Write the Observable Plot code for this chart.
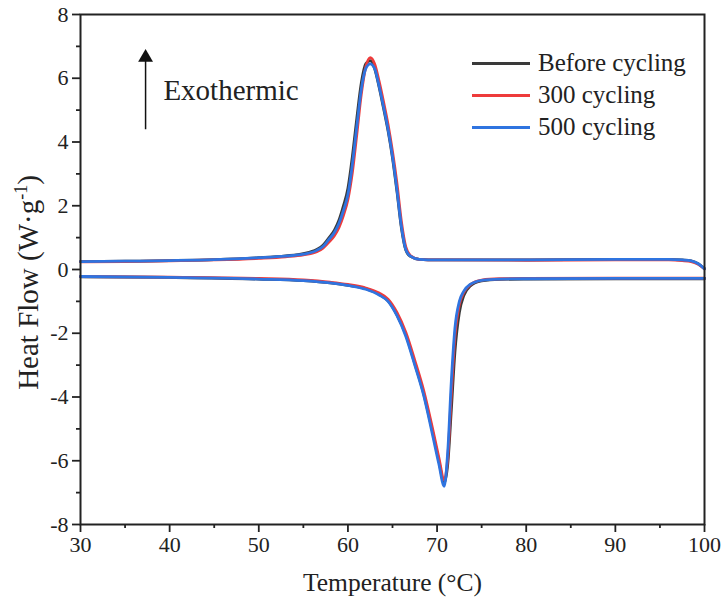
<!DOCTYPE html>
<html>
<head>
<meta charset="utf-8">
<script src="https://cdn.jsdelivr.net/npm/d3@7"></script>
<script src="https://cdn.jsdelivr.net/npm/@observablehq/plot@0.6"></script>
<style>
  html, body { margin: 0; padding: 0; background: #fff; }
  #wrap { position: relative; width: 724px; height: 610px; font-family: "Liberation Serif", "Times New Roman", serif; }
  #legend { position: absolute; left: 472px; top: 47px; font-size: 25px; color: #222; line-height: 32px; }
  #legend .row { display: flex; align-items: center; white-space: nowrap; }
  #legend .sw { width: 58px; height: 3px; margin-right: 8px; }
</style>
</head>
<body>
<div id="wrap"><div id="legend"></div></div>
<script>
// ---- data ----
const seriesNames = ["Before cycling", "300 cycling", "500 cycling"];
const seriesColors = ["#3a3a3a", "#ee3b3b", "#2f74e0"];

// exothermic (cooling) branch
const exoTemp = [30, 35, 40, 45, 50, 53, 55, 56.5, 57.2, 57.8, 58.5, 59, 59.5, 60, 60.5, 61, 61.5, 62, 62.5, 63, 63.5, 64, 64.5, 65, 65.5, 66, 66.5, 67, 68, 70, 80, 90, 96, 97.5, 98.5, 99.3, 100];
const exoBefore = [0.25, 0.26, 0.28, 0.31, 0.37, 0.43, 0.5, 0.63, 0.76, 0.97, 1.24, 1.55, 2.0, 2.55, 3.55, 4.75, 5.85, 6.45, 6.55, 6.3, 5.72, 5.05, 4.35, 3.5, 2.45, 1.3, 0.6, 0.41, 0.32, 0.3, 0.3, 0.32, 0.32, 0.3, 0.27, 0.18, 0.03];
const exo300 = [0.24, 0.25, 0.27, 0.3, 0.35, 0.4, 0.46, 0.56, 0.67, 0.84, 1.07, 1.32, 1.7, 2.2, 3.05, 4.25, 5.5, 6.35, 6.65, 6.45, 5.9, 5.25, 4.55, 3.7, 2.7, 1.5, 0.7, 0.44, 0.32, 0.3, 0.29, 0.3, 0.3, 0.28, 0.25, 0.16, 0.02];
const exo500 = [0.25, 0.26, 0.28, 0.31, 0.37, 0.42, 0.48, 0.6, 0.72, 0.92, 1.17, 1.45, 1.85, 2.35, 3.3, 4.5, 5.65, 6.3, 6.45, 6.3, 5.75, 5.1, 4.4, 3.55, 2.5, 1.35, 0.62, 0.42, 0.32, 0.3, 0.3, 0.32, 0.32, 0.3, 0.27, 0.18, 0.02];

// endothermic (heating) branch
const endoTemp = [30, 40, 50, 55, 58, 60, 62, 63.5, 64.5, 65.5, 66.5, 67.5, 68.5, 69.5, 70.2, 70.8, 71.2, 71.6, 72, 72.5, 73, 73.7, 75, 77, 80, 90, 100];
const endoBefore = [-0.23, -0.25, -0.3, -0.35, -0.42, -0.5, -0.6, -0.78, -0.98, -1.42, -2.05, -2.95, -3.9, -5.1, -6.0, -6.7, -6.1, -4.4, -2.6, -1.35, -0.82, -0.52, -0.36, -0.31, -0.3, -0.29, -0.29];
const endo300 = [-0.22, -0.24, -0.28, -0.33, -0.4, -0.47, -0.58, -0.74, -0.93, -1.35, -1.98, -2.85, -3.8, -5.0, -5.9, -6.6, -5.9, -3.9, -2.1, -1.1, -0.72, -0.48, -0.33, -0.29, -0.28, -0.27, -0.27];
const endo500 = [-0.22, -0.25, -0.3, -0.35, -0.42, -0.5, -0.62, -0.8, -1.0, -1.45, -2.1, -3.0, -3.95, -5.2, -6.1, -6.8, -5.7, -3.5, -1.85, -1.0, -0.68, -0.47, -0.34, -0.3, -0.29, -0.28, -0.28];

// axes
const xTicks = [30, 40, 50, 60, 70, 80, 90, 100];
const xMinorTicks = [35, 45, 55, 65, 75, 85, 95];
const yTicks = [-8, -6, -4, -2, 0, 2, 4, 6, 8];
const yMinorTicks = [-7, -5, -3, -1, 1, 3, 5, 7];
const xTitle = "Temperature (°C)";
const yTitle = "Heat Flow (W·g-1)";

// annotation (data units)
const arrowT = [37.3];
const arrowFrom = [4.4];
const arrowTo = [6.65];
const noteText = ["Exothermic"];
const noteT = [39.3];
const noteV = [5.62];

// ---- build table ----
const exoSets = [exoBefore, exo300, exo500];
const endoSets = [endoBefore, endo300, endo500];
const rows = [];
seriesNames.forEach((s, i) => {
  exoTemp.forEach((t, j) => rows.push({series: s, key: s + "-exo", T: t, v: exoSets[i][j]}));
  endoTemp.forEach((t, j) => rows.push({series: s, key: s + "-endo", T: t, v: endoSets[i][j]}));
});

const ink = "#222";
const chart = Plot.plot({
  width: 724,
  height: 610,
  marginLeft: 80,
  marginRight: 20,
  marginTop: 14,
  marginBottom: 86,
  style: {fontFamily: "'Liberation Serif', 'Times New Roman', serif", background: "white", color: ink, overflow: "visible"},
  x: {domain: [30, 100]},
  y: {domain: [-8, 8]},
  color: {domain: seriesNames, range: seriesColors},
  marks: [
    Plot.axisX({ticks: xTicks, tickSize: 8, tickPadding: 4, fontSize: 22, tickFormat: d => String(d), label: null, strokeWidth: 1.8}),
    Plot.axisX({ticks: xMinorTicks, tickSize: 4, text: null, label: null, strokeWidth: 1.8}),
    Plot.axisY({ticks: yTicks, tickSize: 8, tickPadding: 4, fontSize: 22, tickFormat: d => String(d), label: null, strokeWidth: 1.8}),
    Plot.axisY({ticks: yMinorTicks, tickSize: 4, text: null, label: null, strokeWidth: 1.8}),
    Plot.line(rows, {x: "T", y: "v", z: "key", stroke: "series", curve: "monotone-x", strokeWidth: 2.8, strokeLinejoin: "round"}),
    Plot.frame({stroke: ink, strokeWidth: 2}),
    Plot.text([xTitle], {frameAnchor: "bottom", dy: 66, fontSize: 25.5, fill: ink}),
    Plot.text([yTitle], {frameAnchor: "left", textAnchor: "middle", dx: -52, dy: 13, rotate: -90, fontSize: 29, fill: ink, className: "ytitle"}),
    Plot.link(arrowT, {x1: d => d, x2: d => d, y1: (d, i) => arrowFrom[i], y2: (d, i) => arrowTo[i], stroke: "#111", strokeWidth: 1.5}),
    Plot.dot(arrowT, {x: d => d, y: (d, i) => arrowTo[i], symbol: "triangle", r: 5.5, fill: "#111", stroke: "none"}),
    Plot.text(noteText, {x: (d, i) => noteT[i], y: (d, i) => noteV[i], textAnchor: "start", fontSize: 29, fill: ink})
  ]
});
document.getElementById("wrap").prepend(chart);

// superscript on the y title
const yt = chart.querySelector(".ytitle text");
if (yt) {
  yt.textContent = "";
  const ns = "http://www.w3.org/2000/svg";
  const a = document.createElementNS(ns, "tspan"); a.textContent = "Heat Flow (W·g";
  const b = document.createElementNS(ns, "tspan"); b.textContent = "-1"; b.setAttribute("font-size", "18"); b.setAttribute("dy", "-11");
  const c = document.createElementNS(ns, "tspan"); c.textContent = ")"; c.setAttribute("dy", "11");
  yt.append(a, b, c);
}

// legend
const lg = document.getElementById("legend");
seriesNames.forEach((s, i) => {
  const r = document.createElement("div"); r.className = "row";
  const sw = document.createElement("span"); sw.className = "sw"; sw.style.background = seriesColors[i];
  const tx = document.createElement("span"); tx.textContent = s;
  r.append(sw, tx); lg.append(r);
});
</script>
</body>
</html>
